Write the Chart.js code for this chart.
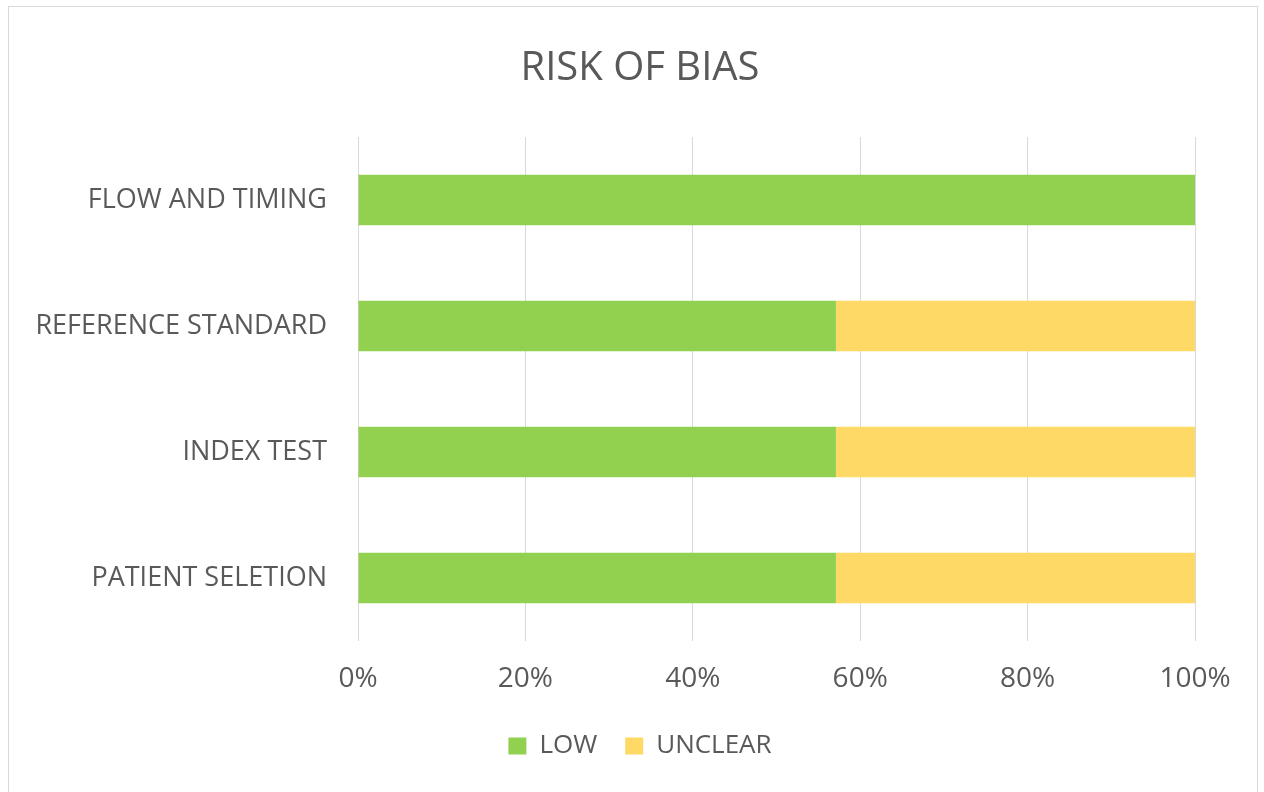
<!DOCTYPE html>
<html>
<head>
<meta charset="utf-8">
<script src="https://cdn.jsdelivr.net/npm/chart.js@4"></script>
<style>
  html, body { margin: 0; padding: 0; background: #fff; }
  #wrap { position: relative; width: 1264px; height: 792px; }
  #frame { position: absolute; left: 8px; top: 6px; width: 1250px; height: 790px; border: 1px solid #d9d9d9; box-sizing: border-box; }
  canvas { position: absolute; left: 0; top: 0; }
</style>
</head>
<body>
<div id="wrap">
  <div id="frame"></div>
  <canvas id="riskChart" width="1264" height="792"></canvas>
</div>
<script>
const categories = ['FLOW AND TIMING', 'REFERENCE STANDARD', 'INDEX TEST', 'PATIENT SELETION'];
const lowValues = [100, 57.1, 57.1, 57.1];
const unclearValues = [0, 42.9, 42.9, 42.9];
const xTicks = [0, 20, 40, 60, 80, 100];

const textColor = '#595959';
const fontFamily = '"Open Sans", "Liberation Sans", sans-serif';

const ctx = document.getElementById('riskChart').getContext('2d');
new Chart(ctx, {
    type: 'bar',
    data: {
        labels: categories,
        datasets: [
            {
                label: 'LOW',
                data: lowValues,
                backgroundColor: '#92D050',
                barPercentage: 0.4,
                categoryPercentage: 1
            },
            {
                label: 'UNCLEAR',
                data: unclearValues,
                backgroundColor: '#FFD966',
                barPercentage: 0.4,
                categoryPercentage: 1
            }
        ]
    },
    options: {
        indexAxis: 'y',
        responsive: false,
        animation: false,
        layout: { padding: { left: 16, right: 0, top: 0, bottom: 23 } },
        plugins: {
            title: {
                display: true,
                text: 'RISK OF BIAS',
                color: textColor,
                font: { family: fontFamily, size: 40, weight: 'normal' },
                padding: { top: 45, bottom: 44 }
            },
            legend: {
                position: 'bottom',
                labels: {
                    color: textColor,
                    font: { family: fontFamily, size: 26 },
                    boxWidth: 18,
                    boxHeight: 17,
                    padding: 28
                }
            },
            tooltip: { enabled: false }
        },
        scales: {
            x: {
                stacked: true,
                min: 0,
                max: 100,
                afterBuildTicks: axis => { axis.ticks = xTicks.map(v => ({ value: v })); },
                afterFit: axis => { axis.height = 64; },
                ticks: {
                    color: textColor,
                    font: { family: fontFamily, size: 28 },
                    padding: 21,
                    callback: v => v + '%'
                },
                grid: { color: '#d9d9d9', drawTicks: false },
                border: { display: false }
            },
            y: {
                stacked: true,
                afterFit: axis => { axis.width = 342; },
                ticks: {
                    color: textColor,
                    font: { family: fontFamily, size: 27 },
                    padding: 31
                },
                grid: { display: false, drawTicks: false },
                border: { display: false }
            },
            // empty right-hand axis, only reserves the margin right of the plot
            yRight: {
                type: 'category',
                position: 'right',
                afterFit: axis => { axis.width = 69; },
                ticks: { display: false },
                grid: { display: false, drawTicks: false },
                border: { display: false }
            }
        }
    }
});
</script>
</body>
</html>
